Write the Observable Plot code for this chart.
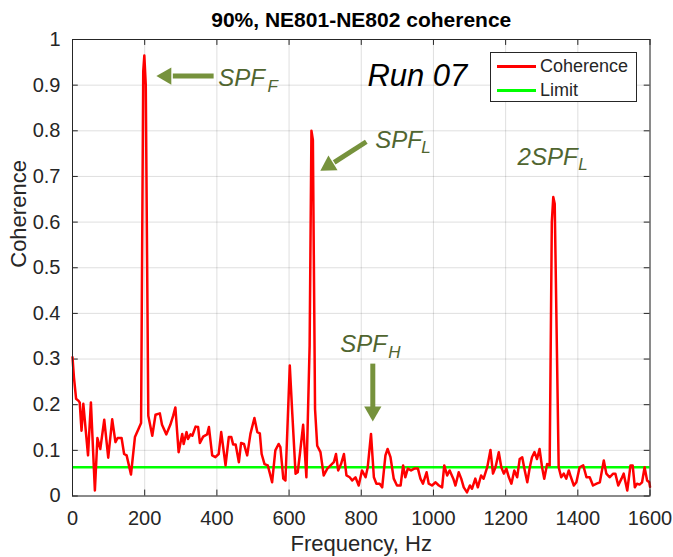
<!DOCTYPE html>
<html>
<head>
<meta charset="utf-8">
<script src="https://cdn.jsdelivr.net/npm/d3@7"></script>
<script src="https://cdn.jsdelivr.net/npm/@observablehq/plot@0.6"></script>
<style>
  html, body { margin: 0; padding: 0; background: #fff; }
  #wrap { position: relative; width: 673px; height: 557px; font-family: "Liberation Sans", Arial, Helvetica, sans-serif; }
  #legend { position: absolute; left: 490px; top: 52px; width: 145px; height: 48px; border: 1px solid #262626; background: #fff; }
  .sw { position: absolute; left: 6px; width: 39px; height: 2.5px; }
  .lt { position: absolute; left: 49px; font-size: 18px; color: #262626; line-height: 18px; }
</style>
</head>
<body>
<div id="wrap"></div>
<script>
// ---- data (Hz, coherence) ----
const coherenceSeries = [
  [0,0.304],[4,0.26],[10,0.213],[16,0.209],[20,0.205],[25,0.143],[30,0.202],[43,0.089],[51,0.205],[62,0.012],
  [69,0.127],[77,0.103],[88,0.167],[99,0.084],[110,0.168],[119,0.118],[125,0.127],[136,0.127],[143,0.092],[150,0.089],
  [162,0.047],[173,0.129],[184,0.149],[190,0.16],[196,0.93],[199,0.965],[203,0.90],[210,0.176],[221,0.132],[230,0.178],
  [242,0.181],[248,0.156],[260,0.135],[271,0.156],[279,0.176],[285,0.194],[294,0.096],[304,0.136],[308,0.114],[316,0.14],
  [320,0.125],[327,0.135],[332,0.132],[341,0.152],[348,0.151],[353,0.116],[362,0.13],[373,0.135],[378,0.151],[387,0.089],
  [396,0.085],[405,0.092],[412,0.14],[424,0.067],[433,0.129],[440,0.129],[445,0.113],[452,0.113],[461,0.074],[467,0.116],
  [475,0.114],[484,0.089],[493,0.136],[504,0.171],[512,0.14],[519,0.137],[524,0.092],[532,0.07],[541,0.067],[547,0.049],
  [553,0.03],[562,0.1],[571,0.114],[576,0.107],[584,0.038],[590,0.034],[602,0.286],[609,0.18],[618,0.049],[624,0.052],
  [630,0.092],[639,0.156],[648,0.041],[657,0.33],[662,0.80],[666,0.78],[672,0.19],[678,0.11],[687,0.096],[696,0.045],
  [706,0.06],[715,0.067],[724,0.074],[730,0.092],[736,0.056],[744,0.07],[752,0.092],[759,0.045],[768,0.041],[775,0.034],
  [784,0.041],[793,0.023],[802,0.056],[812,0.041],[818,0.063],[827,0.136],[835,0.041],[842,0.027],[851,0.027],[858,0.019],
  [867,0.089],[873,0.103],[881,0.085],[890,0.038],[899,0.023],[909,0.023],[916,0.067],[922,0.041],[929,0.06],[938,0.056],
  [947,0.06],[957,0.06],[964,0.038],[971,0.027],[981,0.052],[987,0.027],[996,0.023],[1006,0.03],[1015,0.023],[1024,0.019],
  [1030,0.067],[1038,0.045],[1045,0.056],[1055,0.038],[1061,0.023],[1070,0.052],[1077,0.038],[1084,0.019],[1093,0.008],[1101,0.023],
  [1107,0.016],[1116,0.038],[1123,0.019],[1132,0.045],[1139,0.038],[1149,0.063],[1158,0.101],[1165,0.049],[1172,0.063],[1181,0.096],
  [1188,0.063],[1195,0.049],[1202,0.06],[1209,0.041],[1216,0.027],[1224,0.056],[1232,0.041],[1239,0.081],[1246,0.085],[1253,0.056],
  [1260,0.03],[1267,0.063],[1273,0.085],[1280,0.096],[1287,0.081],[1294,0.103],[1301,0.063],[1307,0.038],[1315,0.07],[1322,0.067],
  [1328,0.6],[1332,0.655],[1336,0.64],[1347,0.063],[1354,0.041],[1361,0.049],[1368,0.038],[1375,0.056],[1381,0.041],[1389,0.023],
  [1396,0.03],[1405,0.063],[1415,0.067],[1424,0.041],[1433,0.041],[1442,0.023],[1452,0.027],[1461,0.03],[1472,0.078],[1479,0.049],
  [1488,0.041],[1498,0.049],[1504,0.049],[1512,0.023],[1521,0.038],[1527,0.049],[1537,0.012],[1546,0.067],[1552,0.067],[1558,0.019],
  [1564,0.027],[1571,0.025],[1578,0.03],[1585,0.063],[1592,0.034],[1598,0.03],[1600,0.02]
];
const limitValue = 0.063;
const xTicks = [0, 200, 400, 600, 800, 1000, 1200, 1400, 1600];
const yTicks = [0, 0.1, 0.2, 0.3, 0.4, 0.5, 0.6, 0.7, 0.8, 0.9, 1];
const titleText = "90%, NE801-NE802 coherence";
const xLabel = "Frequency, Hz";
const yLabel = "Coherence";
const seriesNames = ["Coherence", "Limit"];

// annotation labels (text, subscript) anchored in data units
const annoLabels = [
  {text: "SPF", x: 404, y: 0.898, sub: "F", sx: 540, sy: 0.884},
  {text: "SPF", x: 839, y: 0.763, sub: "L", sx: 966, sy: 0.752},
  {text: "2SPF", x: 1233, y: 0.725, sub: "L", sx: 1401, sy: 0.714},
  {text: "SPF", x: 742, y: 0.315, sub: "H", sx: 875, sy: 0.303}
];
const arrowShafts = [
  {x1: 391, y1: 0.920, x2: 278, y2: 0.920},
  {x1: 814, y1: 0.776, x2: 725, y2: 0.731},
  {x1: 832, y1: 0.290, x2: 832, y2: 0.192}
];
const arrowHeads = [
  {x: 260, y: 0.920, angle: 270},
  {x: 710, y: 0.724, angle: 238},
  {x: 832, y: 0.185, angle: 180}
];
const runLabel = {text: "Run 07", x: 817, y: 0.898};

const data = coherenceSeries.map(([f, c]) => ({f, c}));
const axisColor = "#262626";
const annoText = "#506530";
const annoArrow = "#76923c";

const chart = Plot.plot({
  width: 673,
  height: 557,
  marginLeft: 72,
  marginRight: 23.5,
  marginTop: 39,
  marginBottom: 61.5,
  style: {fontFamily: "'Liberation Sans', Arial, Helvetica, sans-serif", fontSize: "20px", color: axisColor, background: "#fff"},
  x: {domain: [0, 1600], label: null},
  y: {domain: [0, 1], label: null},
  marks: [
    Plot.gridX(xTicks, {stroke: axisColor, strokeOpacity: 0.15}),
    Plot.gridY(yTicks, {stroke: axisColor, strokeOpacity: 0.15}),
    Plot.axisX(xTicks, {tickSize: 0, tickPadding: 15, tickFormat: d => String(d), fill: axisColor}),
    Plot.axisY(yTicks, {tickSize: 0, tickPadding: 12, tickFormat: d => String(+d.toFixed(1)), fill: axisColor}),
    Plot.ruleX(xTicks, {x: d => d, y1: 0, y2: 0.013, stroke: axisColor}),
    Plot.ruleX(xTicks, {x: d => d, y1: 0.987, y2: 1, stroke: axisColor}),
    Plot.ruleY(yTicks, {y: d => d, x1: 0, x2: 16, stroke: axisColor}),
    Plot.ruleY(yTicks, {y: d => d, x1: 1584, x2: 1600, stroke: axisColor}),
    Plot.ruleY([limitValue], {stroke: "#00ff00", strokeWidth: 2.5}),
    Plot.line(data, {x: "f", y: "c", stroke: "#ff0000", strokeWidth: 2.5, strokeLinejoin: "round"}),
    Plot.link(arrowShafts, {x1: "x1", y1: "y1", x2: "x2", y2: "y2", stroke: annoArrow, strokeWidth: 5}),
    Plot.dot(arrowHeads, {x: "x", y: "y", symbol: "triangle", r: 6.4, fill: annoArrow, stroke: "none", rotate: "angle"}),
    Plot.text(annoLabels, {x: "x", y: "y", text: "text", textAnchor: "start", lineAnchor: "bottom", fontSize: 24, fontStyle: "italic", fill: annoText}),
    Plot.text(annoLabels, {x: "sx", y: "sy", text: "sub", textAnchor: "start", lineAnchor: "bottom", fontSize: 17, fontStyle: "italic", fill: annoText}),
    Plot.text([runLabel], {x: "x", y: "y", text: "text", textAnchor: "start", lineAnchor: "bottom", fontSize: 31, fontStyle: "italic", fill: "#000"}),
    Plot.frame({stroke: axisColor}),
    Plot.text([titleText], {frameAnchor: "top", text: d => d, dy: -13, lineAnchor: "bottom", fontSize: 21, fontWeight: "bold", fill: "#000"}),
    Plot.text([xLabel], {frameAnchor: "bottom", text: d => d, dy: 55, lineAnchor: "bottom", fontSize: 22, fill: axisColor}),
    Plot.text([yLabel], {frameAnchor: "left", text: d => d, dx: -54, rotate: -90, lineAnchor: "middle", fontSize: 22, fill: axisColor})
  ]
});

const wrap = document.getElementById("wrap");
wrap.appendChild(chart);

// legend box
const legend = document.createElement("div");
legend.id = "legend";
const colors = ["#ff0000", "#00ff00"];
seriesNames.forEach((name, i) => {
  const sw = document.createElement("div");
  sw.className = "sw";
  sw.style.top = (12 + i * 24) + "px";
  sw.style.background = colors[i];
  legend.appendChild(sw);
  const t = document.createElement("div");
  t.className = "lt";
  t.style.top = (4 + i * 24) + "px";
  t.textContent = name;
  legend.appendChild(t);
});
wrap.appendChild(legend);
</script>
</body>
</html>
